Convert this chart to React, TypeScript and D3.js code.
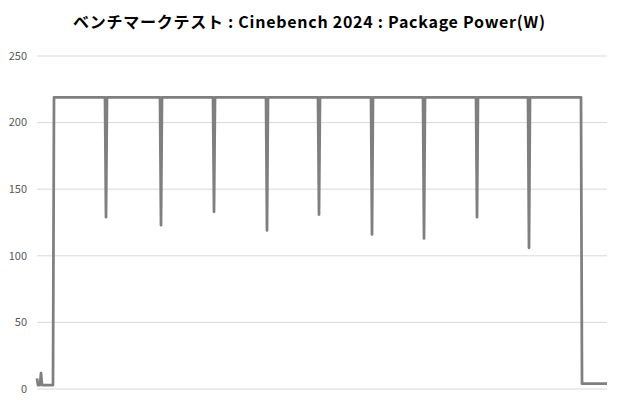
import React from 'react';
import * as d3 from 'd3';

// Package power trace, sample index vs watts
const times = [
  0, 1, 3, 4, 5, 16, 17,
  68, 69, 70,
  123, 124, 125,
  176, 177, 178,
  229, 230, 231,
  281, 282, 283,
  334, 335, 336,
  386, 387, 388,
  439, 440, 441,
  491, 492, 493,
  544, 545, 570,
];
const watts = [
  8, 3, 3, 12, 3, 3, 219,
  219, 129, 219,
  219, 123, 219,
  219, 133, 219,
  219, 119, 219,
  219, 131, 219,
  219, 116, 219,
  219, 113, 219,
  219, 129, 219,
  219, 106, 219,
  219, 4, 4,
];
const yTicks = [0, 50, 100, 150, 200, 250];
const title = 'ベンチマークテスト : Cinebench 2024 : Package Power(W)';

const W = 620;
const H = 400;
const margin = { top: 56, right: 13, bottom: 11, left: 37 };

export default function App() {
  const x = d3.scaleLinear()
    .domain([0, 570])
    .range([margin.left, W - margin.right]);
  const y = d3.scaleLinear()
    .domain([0, 250])
    .range([H - margin.bottom, margin.top]);

  const points = times.map((t, i) => [t, watts[i]] as [number, number]);
  const line = d3.line<[number, number]>()
    .x(d => x(d[0]))
    .y(d => y(d[1]));

  return (
    <svg width={W} height={H} style={{ position: 'absolute', left: 0, top: 0, background: '#fff' }}
      fontFamily="'Noto Sans CJK JP', 'Noto Sans', sans-serif">
      <text x={309} y={28} textAnchor="middle" fontSize={16} fontWeight="bold" fill="#000"
        textLength={472} lengthAdjust="spacing">
        {title}
      </text>
      {yTicks.map(t => (
        <g key={t}>
          <line x1={x(0)} x2={x(570)} y1={y(t)} y2={y(t)} stroke="#d9d9d9" strokeWidth={1} />
          <text x={27} y={y(t)} dy="0.35em" textAnchor="end" fontSize={11} fill="#595959">
            {t}
          </text>
        </g>
      ))}
      <path d={line(points) ?? ''} fill="none" stroke="#7f7f7f" strokeWidth={2.75}
        strokeLinejoin="round" />
    </svg>
  );
}
